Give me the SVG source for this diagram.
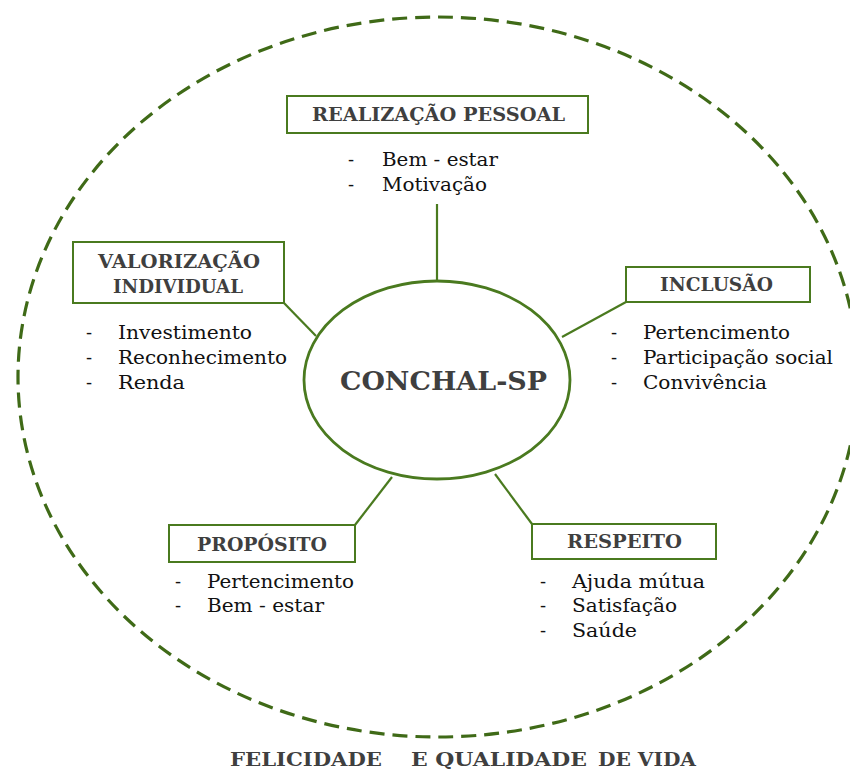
<svg xmlns="http://www.w3.org/2000/svg" width="850" height="769" viewBox="0 0 850 769">
<style>
.box{fill:#fff;stroke:#4a7a1f;stroke-width:2}
.ttl{font-family:"DejaVu Serif","Liberation Serif",serif;font-weight:bold;font-size:18px;fill:#3f3f3f}
.ftr{font-family:"DejaVu Serif","Liberation Serif",serif;font-weight:bold;font-size:19px;fill:#3f3f3f}
.itm{font-family:"DejaVu Serif","Liberation Serif",serif;font-size:18px;fill:#111}
.con{stroke:#4a7a1f;stroke-width:2.2;fill:none}
</style>
<rect width="850" height="769" fill="#fff"/>
<ellipse id="outer" cx="438" cy="377" rx="420" ry="360" fill="none" stroke="#3f6a17" stroke-width="3.2" stroke-dasharray="15 8"/>
<g id="connectors">
<line class="con" x1="437" y1="204" x2="437" y2="282"/>
<line class="con" x1="284" y1="303" x2="316" y2="336"/>
<line class="con" x1="626" y1="302" x2="562" y2="337"/>
<line class="con" x1="355" y1="525" x2="392" y2="477"/>
<line class="con" x1="532" y1="524" x2="495" y2="474"/>
</g>
<g id="center">
<ellipse cx="437" cy="380" rx="133" ry="99" fill="#fff" stroke="#4a7a1f" stroke-width="2.8"/>
<text x="340" y="390" font-family="DejaVu Serif, serif" font-weight="bold" font-size="26" fill="#3f3f3f" textLength="207" lengthAdjust="spacingAndGlyphs">CONCHAL-SP</text>
</g>
<g id="realizacao">
<rect class="box" x="287" y="96" width="301" height="37"/>
<text class="ttl" x="312" y="121" textLength="253" lengthAdjust="spacingAndGlyphs">REALIZAÇÃO PESSOAL</text>
<text class="itm" x="348" y="166">-</text><text class="itm" x="382" y="166" textLength="116" lengthAdjust="spacingAndGlyphs">Bem - estar</text>
<text class="itm" x="348" y="191">-</text><text class="itm" x="382" y="191" textLength="105" lengthAdjust="spacingAndGlyphs">Motivação</text>
</g>
<g id="valorizacao">
<rect class="box" x="73" y="242" width="211" height="61"/>
<text class="ttl" x="98" y="268" textLength="162" lengthAdjust="spacingAndGlyphs">VALORIZAÇÃO</text>
<text class="ttl" x="113" y="293" textLength="130" lengthAdjust="spacingAndGlyphs">INDIVIDUAL</text>
<text class="itm" x="86" y="339">-</text><text class="itm" x="118" y="339" textLength="134" lengthAdjust="spacingAndGlyphs">Investimento</text>
<text class="itm" x="86" y="364">-</text><text class="itm" x="118" y="364" textLength="169" lengthAdjust="spacingAndGlyphs">Reconhecimento</text>
<text class="itm" x="86" y="389">-</text><text class="itm" x="118" y="389" textLength="67" lengthAdjust="spacingAndGlyphs">Renda</text>
</g>
<g id="inclusao">
<rect class="box" x="626" y="267" width="184" height="35"/>
<text class="ttl" x="660" y="291" textLength="113" lengthAdjust="spacingAndGlyphs">INCLUSÃO</text>
<text class="itm" x="611" y="339">-</text><text class="itm" x="643" y="339" textLength="147" lengthAdjust="spacingAndGlyphs">Pertencimento</text>
<text class="itm" x="611" y="364">-</text><text class="itm" x="643" y="364" textLength="190" lengthAdjust="spacingAndGlyphs">Participação social</text>
<text class="itm" x="611" y="389">-</text><text class="itm" x="643" y="389" textLength="124" lengthAdjust="spacingAndGlyphs">Convivência</text>
</g>
<g id="proposito">
<rect class="box" x="169" y="525" width="186" height="37"/>
<text class="ttl" x="197" y="551" textLength="130" lengthAdjust="spacingAndGlyphs">PROPÓSITO</text>
<text class="itm" x="175" y="588">-</text><text class="itm" x="207" y="588" textLength="147" lengthAdjust="spacingAndGlyphs">Pertencimento</text>
<text class="itm" x="175" y="612">-</text><text class="itm" x="207" y="612" textLength="117" lengthAdjust="spacingAndGlyphs">Bem - estar</text>
</g>
<g id="respeito">
<rect class="box" x="532" y="524" width="184" height="35"/>
<text class="ttl" x="567" y="548" textLength="115" lengthAdjust="spacingAndGlyphs">RESPEITO</text>
<text class="itm" x="540" y="588">-</text><text class="itm" x="572" y="588" textLength="133" lengthAdjust="spacingAndGlyphs">Ajuda mútua</text>
<text class="itm" x="540" y="612">-</text><text class="itm" x="572" y="612" textLength="105" lengthAdjust="spacingAndGlyphs">Satisfação</text>
<text class="itm" x="540" y="637">-</text><text class="itm" x="572" y="637" textLength="65" lengthAdjust="spacingAndGlyphs">Saúde</text>
</g>
<g id="footer">
<text class="ftr" x="230" y="766" textLength="152" lengthAdjust="spacingAndGlyphs">FELICIDADE</text>
<text class="ftr" x="411" y="766" textLength="176" lengthAdjust="spacingAndGlyphs">E QUALIDADE</text>
<text class="ftr" x="598" y="766" textLength="98" lengthAdjust="spacingAndGlyphs">DE VIDA</text>
</g>
</svg>
